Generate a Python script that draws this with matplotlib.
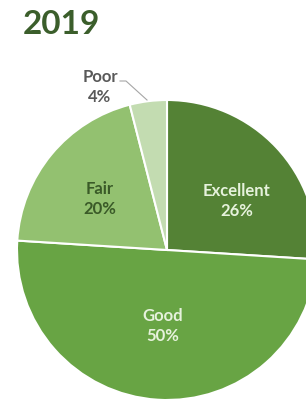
import matplotlib.pyplot as plt

# Slices in drawing order (clockwise from 12 o'clock)
categories = ['Excellent', 'Good', 'Fair', 'Poor']
shares = [26, 50, 20, 4]
colors = ['#548235', '#68a444', '#93c170', '#c3dcb1']
label_colors = ['#e6f2dc', '#e6f2dc', '#3a5a28', '#595959']
title = '2019'

plt.rcParams['font.family'] = ['Lato', 'DejaVu Sans']

fig = plt.figure(figsize=(3.06, 4.01), dpi=100)
ax = fig.add_axes([0, 0, 1, 1])

cx, cy, r = 167, 250, 150
wedges, _ = ax.pie(shares, colors=colors, startangle=90, counterclock=False,
                   center=(cx, -cy), radius=r,
                   wedgeprops=dict(edgecolor='white', linewidth=1.5))
# pixel-style axes (y negated so pie keeps its y-up orientation)
ax.set_xlim(0, 306)
ax.set_ylim(-401, 0)
ax.set_aspect('equal')
ax.axis('off')

# label positions (pixel coords of the text block centres)
label_pos = [(237, 201), (163, 326), (100, 199), (100, 87)]
for name, val, col, (x, y) in zip(categories, shares, label_colors, label_pos):
    ax.text(x, -y, f'{name}\n{val}%', ha='center', va='center', color=col,
            fontsize=12, fontweight='bold', linespacing=1.35)

# leader line for the small slice
ax.plot([120, 126, 147], [-81, -81, -100], color='#a6a6a6', lw=0.8)

fig.text(23 / 306, 1 - 25 / 401, title, ha='left', va='center',
         fontsize=24, fontweight='bold', color='#3b5e2b')

fig.savefig('out.png', dpi=100)
